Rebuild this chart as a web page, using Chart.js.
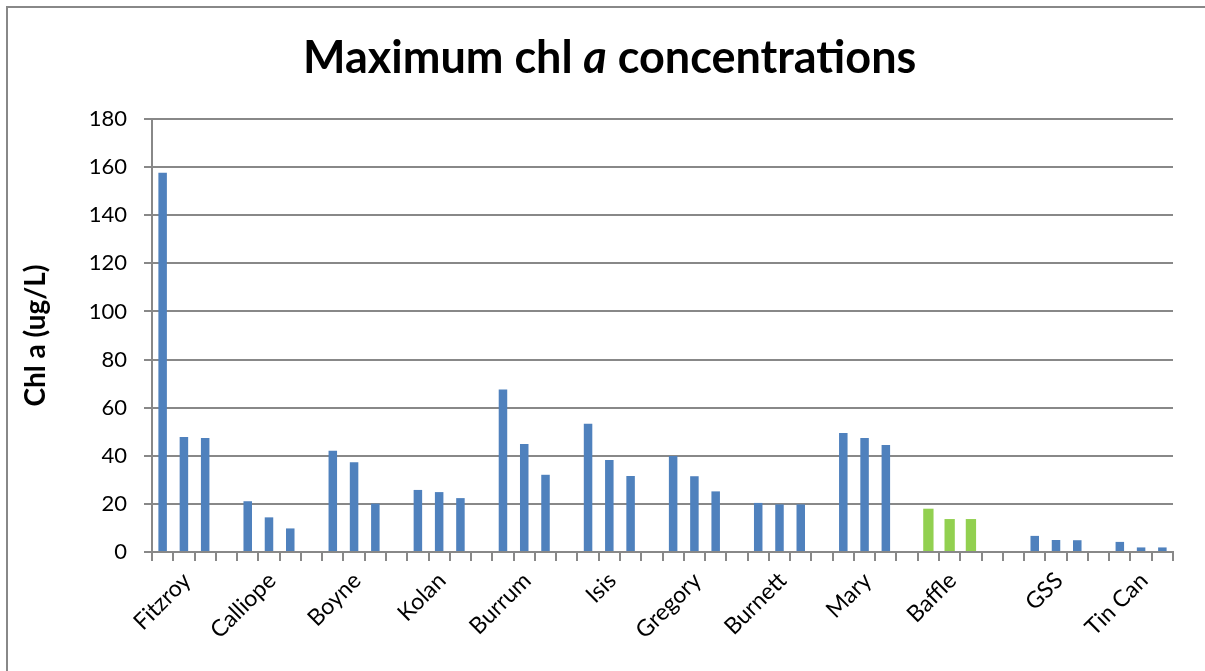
<!DOCTYPE html>
<html>
<head>
<meta charset="utf-8">
<script src="https://cdn.jsdelivr.net/npm/chart.js@4.4.1/dist/chart.umd.min.js"></script>
<style>
  html, body { margin: 0; padding: 0; background: #fff; }
  #wrap { width: 1205px; height: 671px; }
</style>
</head>
<body>
<div id="wrap"><canvas id="chlChart" width="1205" height="671"></canvas></div>
<script>
// Category slots: 3 bars per site, blank slots are the gaps between sites
const siteLabels = [
    '', 'Fitzroy', '', '',
    '', 'Calliope', '', '',
    '', 'Boyne', '', '',
    '', 'Kolan', '', '',
    '', 'Burrum', '', '',
    '', 'Isis', '', '',
    '', 'Gregory', '', '',
    '', 'Burnett', '', '',
    '', 'Mary', '', '',
    '', 'Baffle', '', '', '',
    '', 'GSS', '', '',
    '', 'Tin Can', ''
];

// Max chl a (ug/L), blue series (null = no bar)
const chlBlue = [
    157.7, 47.8, 47.4, null,
    21.1, 14.4, 9.8, null,
    42.1, 37.3, 20.1, null,
    25.8, 24.9, 22.4, null,
    67.6, 44.9, 32.1, null,
    53.3, 38.2, 31.6, null,
    39.9, 31.5, 25.2, null,
    20.4, 19.8, 19.8, null,
    49.5, 47.4, 44.5, null,
    null, null, null, null, null,
    6.7, 5.0, 4.9, null,
    4.2, 1.9, 1.9
];

// Baffle highlighted in green
const chlGreen = [
    null, null, null, null,
    null, null, null, null,
    null, null, null, null,
    null, null, null, null,
    null, null, null, null,
    null, null, null, null,
    null, null, null, null,
    null, null, null, null,
    null, null, null, null,
    18.0, 13.7, 13.7, null, null,
    null, null, null, null,
    null, null, null
];

const yTicks = [0, 20, 40, 60, 80, 100, 120, 140, 160, 180];

const lineGrey = '#888888';
const fontName = 'Lato, "Open Sans", sans-serif';

// Background, frame and title with italic "a"
const framePlugin = {
    id: 'frame',
    beforeDraw(chart) {
        const ctx = chart.ctx;
        ctx.save();
        ctx.fillStyle = '#fff';
        ctx.fillRect(0, 0, chart.width, chart.height);
        ctx.strokeStyle = lineGrey;
        ctx.lineWidth = 2;
        ctx.beginPath();
        ctx.moveTo(chart.width, 7);
        ctx.lineTo(7, 7);
        ctx.lineTo(7, chart.height);
        ctx.stroke();
        ctx.restore();
    },
    afterDraw(chart) {
        const ctx = chart.ctx;
        const parts = [
            { t: 'Maximum chl ', f: 'bold' },
            { t: 'a', f: 'italic bold' },
            { t: ' concentrations', f: 'bold' }
        ];
        const size = 40;
        ctx.save();
        let total = 0;
        parts.forEach(p => {
            ctx.font = p.f + ' ' + size + 'px ' + fontName;
            p.w = ctx.measureText(p.t).width;
            total += p.w;
        });
        const targetW = 613;
        const k = targetW / total;
        let x = 609.5 - targetW / 2;
        ctx.fillStyle = '#000';
        ctx.textBaseline = 'alphabetic';
        parts.forEach(p => {
            ctx.font = p.f + ' ' + (size * k).toFixed(1) + 'px ' + fontName;
            ctx.fillText(p.t, x, 73);
            x += p.w * k;
        });
        ctx.restore();
    }
};

const ctx = document.getElementById('chlChart').getContext('2d');
const chlChart = new Chart(ctx, {
    type: 'bar',
    data: {
        labels: siteLabels,
        datasets: [{
            label: 'Max chl a',
            data: chlBlue,
            backgroundColor: '#4F81BD',
            barPercentage: 0.4,
            categoryPercentage: 1
        }, {
            label: 'Max chl a (Baffle)',
            data: chlGreen,
            backgroundColor: '#92D050',
            barPercentage: 0.485,
            categoryPercentage: 1
        }]
    },
    options: {
        responsive: false,
        animation: false,
        layout: { padding: { top: 119, left: 10, right: 32, bottom: 0 } },
        datasets: { bar: { grouped: false } },
        plugins: {
            legend: { display: false },
            title: { display: false },
            tooltip: { enabled: false }
        },
        scales: {
            x: {
                offset: true,
                grid: {
                    offset: true,
                    drawOnChartArea: false,
                    drawTicks: true,
                    tickLength: 9,
                    color: lineGrey,
                    lineWidth: 2
                },
                border: { color: lineGrey, width: 2 },
                ticks: {
                    autoSkip: false,
                    maxRotation: 45,
                    minRotation: 45,
                    padding: 6,
                    labelOffset: 3,
                    color: '#000',
                    font: { family: fontName, size: 23 }
                },
                afterFit(scale) { scale.height = 671 - 552; }
            },
            y: {
                min: 0,
                max: 180,
                afterBuildTicks(scale) { scale.ticks = yTicks.map(v => ({ value: v })); },
                grid: {
                    color: lineGrey,
                    lineWidth: 2,
                    tickLength: 8
                },
                border: { color: lineGrey, width: 2 },
                ticks: {
                    padding: 17,
                    color: '#000',
                    font: { family: fontName, size: 22 }
                },
                title: {
                    display: true,
                    text: 'Chl a (ug/L)',
                    color: '#000',
                    padding: { top: 9, bottom: 0 },
                    font: { family: fontName, size: 28, weight: 'bold' }
                },
                afterFit(scale) { scale.width = 152 - 10; }
            }
        }
    },
    plugins: [framePlugin]
});
</script>
</body>
</html>
